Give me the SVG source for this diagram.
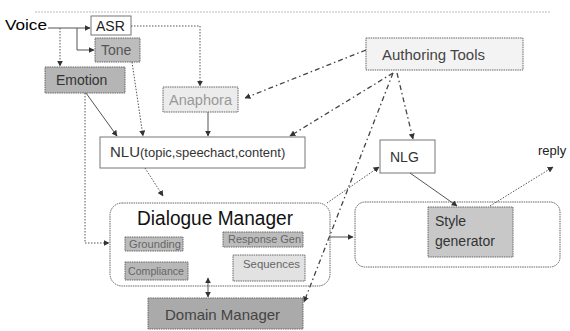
<svg xmlns="http://www.w3.org/2000/svg" width="570" height="331" viewBox="0 0 570 331">
  <defs>
    <marker id="arr" viewBox="0 0 10 10" refX="9" refY="5" markerWidth="6" markerHeight="6" orient="auto-start-reverse" markerUnits="userSpaceOnUse">
      <path d="M0,0 L10,5 L0,10 z" fill="#333"/>
    </marker>
  </defs>
  <style>
    text { font-family: "Liberation Sans", Arial, sans-serif; }
    .box { stroke: #666; stroke-width: 1; stroke-dasharray: 1.5 0.8; }
    .solidbox { stroke: #777; stroke-width: 1; fill: #fff; }
    .ln { fill: none; stroke: #555; stroke-width: 1; marker-end: url(#arr); }
    .dot { stroke-dasharray: 1.5 1.5; }
    .dd { fill: none; stroke: #444; stroke-width: 1.3; stroke-dasharray: 5 3 1.5 3; marker-end: url(#arr); }
    .sm { font-size: 11px; fill: #666; }
  </style>

  <rect width="570" height="331" fill="#fff"/>
  <!-- faint rule across the top -->
  <line x1="35" y1="12" x2="550" y2="12" stroke="#bbb" stroke-width="1" stroke-dasharray="2 1"/>

  <g id="voice">
    <text x="5" y="30" font-size="15" fill="#000" textLength="42" lengthAdjust="spacingAndGlyphs">Voice</text>
  </g>
  <g id="asr">
    <rect class="solidbox" x="91" y="16" width="40" height="19"/>
    <text x="96" y="31" font-size="14" fill="#222">ASR</text>
  </g>
  <g id="tone">
    <rect class="box" x="95" y="38" width="45" height="24" fill="#bdbdbd"/>
    <text x="101" y="55" font-size="14" fill="#555">Tone</text>
  </g>
  <g id="emotion">
    <rect class="box" x="45" y="67" width="80" height="26" fill="#b5b5b5"/>
    <text x="56" y="85" font-size="14" fill="#333">Emotion</text>
  </g>
  <g id="anaphora">
    <rect class="box" x="163" y="87" width="75" height="25" fill="#ececec" stroke="#999"/>
    <text x="169" y="105" font-size="14" fill="#999" textLength="63" lengthAdjust="spacingAndGlyphs">Anaphora</text>
  </g>
  <g id="nlu">
    <rect class="solidbox" x="100" y="137" width="205" height="31"/>
    <text x="110" y="157" fill="#333"><tspan font-size="15">NLU</tspan><tspan font-size="13">(topic,speechact,content)</tspan></text>
  </g>
  <g id="authoring-tools">
    <rect class="box" x="366" y="38" width="157" height="32" fill="#f3f3f3"/>
    <text x="382" y="60" font-size="14" fill="#444" textLength="103" lengthAdjust="spacingAndGlyphs">Authoring Tools</text>
  </g>
  <g id="nlg">
    <rect class="solidbox" x="380" y="140" width="55" height="33"/>
    <text x="390" y="162" font-size="14" fill="#333">NLG</text>
  </g>
  <g id="reply">
    <text x="538" y="155" font-size="13" fill="#222">reply</text>
  </g>
  <g id="dialogue-manager">
    <rect class="box" x="110" y="203" width="220" height="83" rx="12" fill="#fff"/>
    <text x="137" y="225" font-size="20" fill="#111" textLength="156" lengthAdjust="spacingAndGlyphs">Dialogue Manager</text>
    <rect class="box" x="125" y="237" width="58" height="14" fill="#bcbcbc"/>
    <text class="sm" x="129" y="248" textLength="52" lengthAdjust="spacingAndGlyphs">Grounding</text>
    <rect class="box" x="223" y="232" width="80" height="15" fill="#bcbcbc"/>
    <text class="sm" x="228" y="243" textLength="73" lengthAdjust="spacingAndGlyphs">Response Gen</text>
    <rect class="box" x="125" y="262" width="63" height="18" fill="#b8b8b8"/>
    <text class="sm" x="128" y="275" textLength="56" lengthAdjust="spacingAndGlyphs">Compliance</text>
    <rect class="box" x="233" y="255" width="72" height="26" fill="#e2e2e2"/>
    <text class="sm" x="243" y="268" textLength="57" lengthAdjust="spacingAndGlyphs">Sequences</text>
  </g>
  <g id="domain-manager">
    <rect class="box" x="148" y="298" width="155" height="31" fill="#aaaaaa"/>
    <text x="165" y="320" font-size="15" fill="#444">Domain Manager</text>
  </g>
  <g id="output-stage">
    <rect class="box" x="355" y="202" width="205" height="65" rx="10" fill="#fff"/>
  </g>
  <g id="style-generator">
    <rect class="box" x="428" y="207" width="85" height="50" fill="#c8c8c8"/>
    <text x="435" y="226" font-size="14" fill="#333">Style</text>
    <text x="435" y="246" font-size="14" fill="#333">generator</text>
  </g>

  <g id="connectors">
    <line class="ln" x1="48" y1="28" x2="90" y2="28"/>
    <line class="ln dot" x1="60" y1="28" x2="60" y2="66"/>
    <path class="ln" d="M77,28 V50 H94"/>
    <path class="ln dot" d="M131,26 H200 V86"/>
    <line class="ln dot" x1="132" y1="62" x2="143" y2="136"/>
    <line class="ln" x1="86" y1="93" x2="117" y2="136"/>
    <path class="ln dot" d="M85,93 V243 H109"/>
    <line class="ln" x1="208" y1="112" x2="208" y2="136"/>
    <line class="ln dot" x1="145" y1="168" x2="163" y2="196"/>
    <line class="dd" x1="366" y1="50" x2="245" y2="98"/>
    <line class="dd" x1="393" y1="73" x2="290" y2="136"/>
    <line class="dd" x1="397" y1="73" x2="413" y2="139"/>
    <line class="dd" x1="393" y1="73" x2="304" y2="302"/>
    <line class="ln dot" x1="327" y1="203" x2="379" y2="167"/>
    <line class="ln" x1="330" y1="237" x2="353" y2="237"/>
    <line class="ln" x1="208" y1="278" x2="208" y2="297" marker-start="url(#arr)"/>
    <line class="ln" x1="410" y1="173" x2="457" y2="206"/>
    <line class="ln dot" x1="490" y1="206" x2="553" y2="167"/>
  </g>
</svg>
